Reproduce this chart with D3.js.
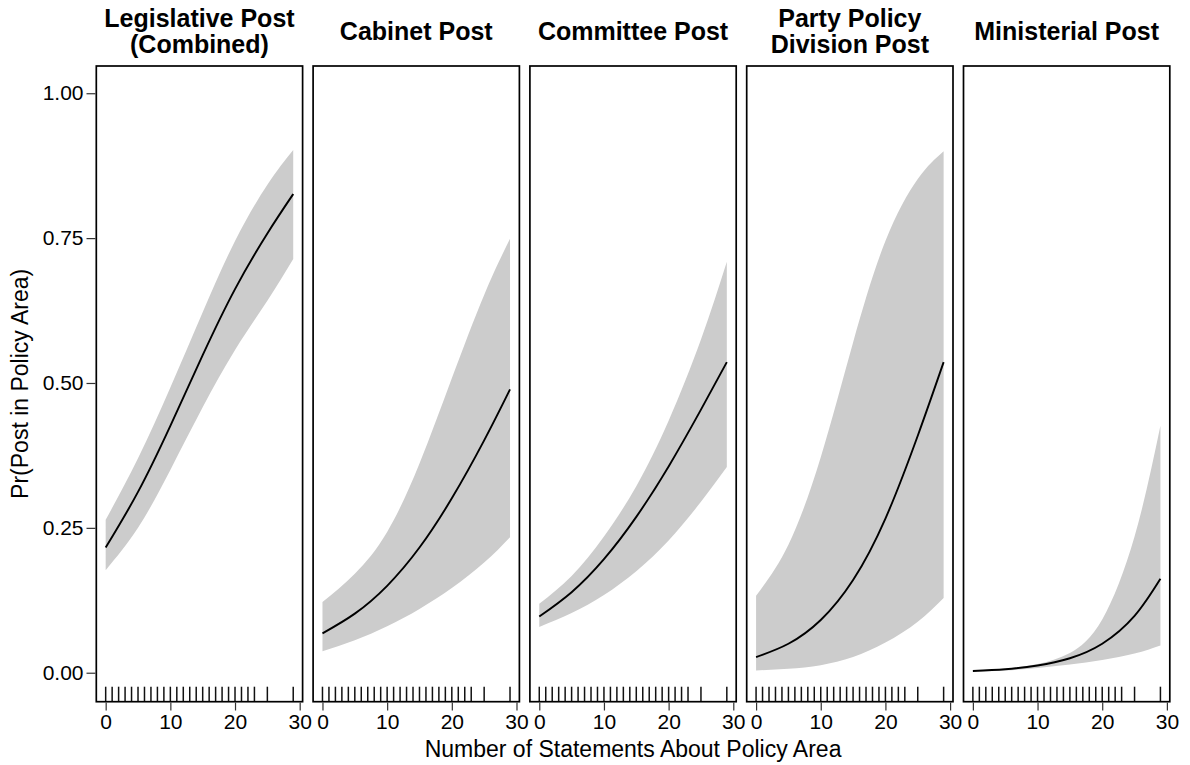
<!DOCTYPE html>
<html>
<head>
<meta charset="utf-8">
<script src="https://cdn.jsdelivr.net/npm/d3@7"></script>
<style>
  body { margin: 0; background: #fff; }
  text { font-family: "Liberation Sans", Arial, Helvetica, sans-serif; }
</style>
</head>
<body>
<div id="chart"></div>
<script>
// panel titles (one entry per line)
var titles = [
    ["Legislative Post", "(Combined)"],
    ["Cabinet Post"],
    ["Committee Post"],
    ["Party Policy", "Division Post"],
    ["Ministerial Post"]
];

// x positions where the curves were read
var xGrid = [0, 5, 10, 15, 20, 25, 29];

var fitLegis = [0.216, 0.312, 0.426, 0.548, 0.662, 0.758, 0.826];
var lowLegis = [0.177, 0.250, 0.350, 0.458, 0.557, 0.642, 0.714];
var upLegis  = [0.264, 0.370, 0.492, 0.622, 0.745, 0.842, 0.902];

var fitCab = [0.068, 0.102, 0.150, 0.216, 0.301, 0.401, 0.489];
var lowCab = [0.037, 0.056, 0.080, 0.110, 0.146, 0.190, 0.234];
var upCab  = [0.122, 0.171, 0.243, 0.361, 0.508, 0.652, 0.749];

var fitComm = [0.097, 0.139, 0.196, 0.269, 0.356, 0.454, 0.536];
var lowComm = [0.079, 0.103, 0.134, 0.175, 0.228, 0.295, 0.355];
var upComm  = [0.119, 0.167, 0.235, 0.322, 0.435, 0.575, 0.709];

var fitParty = [0.027, 0.050, 0.091, 0.160, 0.266, 0.409, 0.536];
var lowParty = [0.004, 0.007, 0.013, 0.027, 0.052, 0.088, 0.129];
var upParty  = [0.133, 0.221, 0.372, 0.570, 0.745, 0.852, 0.900];

var fitMin = [0.003, 0.006, 0.0125, 0.025, 0.050, 0.098, 0.162];
var lowMin = [0.002, 0.004, 0.008, 0.014, 0.022, 0.033, 0.047];
var upMin  = [0.004, 0.007, 0.015, 0.034, 0.092, 0.235, 0.426];

// observed statement counts (rug)
var rugX = [0, 1, 2, 3, 4, 5, 6, 7, 8, 9, 10, 11, 12, 13, 14, 15, 16, 17, 18, 19, 20, 21, 22, 23, 25, 29];

var yTicks = [0, 0.25, 0.5, 0.75, 1];
var xTicks = [0, 10, 20, 30];

var series = [
    { fit: fitLegis, low: lowLegis, up: upLegis },
    { fit: fitCab, low: lowCab, up: upCab },
    { fit: fitComm, low: lowComm, up: upComm },
    { fit: fitParty, low: lowParty, up: upParty },
    { fit: fitMin, low: lowMin, up: upMin }
];

// canvas
var width = 1190;
var height = 765;
var panelTop = 66;
var panelBottom = 701.7;
var panelLeft = 96.3;
var panelW = 206.3;
var panelStep = 216.8;

var svg = d3.select("#chart").append("svg")
    .attr("width", width)
    .attr("height", height);

var yScale = d3.scaleLinear()
    .domain([-0.05, 1.047])
    .range([panelBottom, panelTop]);

series.forEach(function (s, i) {
    var x0 = panelLeft + i * panelStep;
    var xScale = d3.scaleLinear()
        .domain([-1.45, 30.45])
        .range([x0, x0 + panelW]);

    var pts = xGrid.map(function (x, j) {
        return { x: x, fit: s.fit[j], low: s.low[j], up: s.up[j] };
    });

    var g = svg.append("g");

    // ribbon
    var area = d3.area()
        .x(function (d) { return xScale(d.x); })
        .y0(function (d) { return yScale(d.low); })
        .y1(function (d) { return yScale(d.up); })
        .curve(d3.curveNatural);
    g.append("path")
        .datum(pts)
        .attr("d", area)
        .attr("fill", "#cccccc");

    // fitted line
    var line = d3.line()
        .x(function (d) { return xScale(d.x); })
        .y(function (d) { return yScale(d.fit); })
        .curve(d3.curveNatural);
    g.append("path")
        .datum(pts)
        .attr("d", line)
        .attr("fill", "none")
        .attr("stroke", "#000")
        .attr("stroke-width", 1.9);

    // rug
    g.selectAll("line.rug")
        .data(rugX)
        .enter()
        .append("line")
        .attr("class", "rug")
        .attr("x1", function (d) { return xScale(d); })
        .attr("x2", function (d) { return xScale(d); })
        .attr("y1", panelBottom)
        .attr("y2", panelBottom - 15)
        .attr("stroke", "#111")
        .attr("stroke-width", 1.5);

    // panel border
    g.append("rect")
        .attr("x", x0)
        .attr("y", panelTop)
        .attr("width", panelW)
        .attr("height", panelBottom - panelTop)
        .attr("fill", "none")
        .attr("stroke", "#000")
        .attr("stroke-width", 1.7);

    // x axis
    var xAxis = svg.append("g")
        .attr("transform", "translate(0," + (panelBottom + 0.8) + ")")
        .call(d3.axisBottom(xScale).tickValues(xTicks).tickSize(8).tickPadding(4));
    xAxis.select(".domain").remove();
    xAxis.selectAll("line").attr("stroke", "#333").attr("stroke-width", 1.2);
    xAxis.selectAll("text")
        .attr("fill", "#000")
        .style("font-size", "21px");

    // title
    var t = svg.append("text")
        .attr("x", x0 + panelW / 2)
        .attr("text-anchor", "middle")
        .style("font-size", "25px")
        .style("font-weight", "bold");
    var first = titles[i].length === 2 ? 26.5 : 39.5;
    titles[i].forEach(function (txt, k) {
        t.append("tspan")
            .attr("x", x0 + panelW / 2)
            .attr("y", first + k * 26)
            .text(txt);
    });
});

// y axis on first panel
var yAxis = svg.append("g")
    .attr("transform", "translate(" + (panelLeft - 0.8) + ",0)")
    .call(d3.axisLeft(yScale).tickValues(yTicks).tickSize(9).tickPadding(3)
        .tickFormat(d3.format(".2f")));
yAxis.select(".domain").remove();
yAxis.selectAll("line").attr("stroke", "#333").attr("stroke-width", 1.2);
yAxis.selectAll("text")
    .attr("fill", "#000")
    .style("font-size", "21px");

// axis titles
svg.append("text")
    .attr("x", panelLeft + (4 * panelStep + panelW) / 2)
    .attr("y", 756.5)
    .attr("text-anchor", "middle")
    .style("font-size", "23px")
    .text("Number of Statements About Policy Area");

svg.append("text")
    .attr("transform", "translate(28," + ((panelTop + panelBottom) / 2) + ") rotate(-90)")
    .attr("text-anchor", "middle")
    .style("font-size", "23px")
    .text("Pr(Post in Policy Area)");
</script>
</body>
</html>
